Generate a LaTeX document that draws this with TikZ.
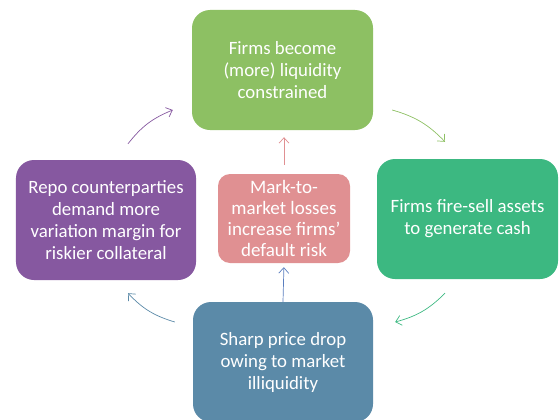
\documentclass[tikz,border=0pt]{standalone}
\usepackage{xcolor}
\usepackage{fontspec}
\setmainfont{Carlito}
\usepackage{tikz}
\usetikzlibrary{arrows.meta,positioning,calc}

\definecolor{liqgreen}{HTML}{8DC063}
\definecolor{sellteal}{HTML}{3CB881}
\definecolor{dropblue}{HTML}{5B8AA8}
\definecolor{repopurple}{HTML}{8658A0}
\definecolor{mtmpink}{HTML}{E09092}
\definecolor{upblue}{HTML}{5A7EBF}

\begin{document}
\begin{tikzpicture}[x=1bp,y=1bp,
  box/.style={rounded corners=18bp,text=white,align=center,
    minimum width=180bp,minimum height=120bp,inner sep=0pt,
    font=\fontsize{18.8bp}{22bp}\selectfont},
  flow/.style={line width=0.7pt,-{Straight Barb[length=5.5bp,width=10bp]},bend left=15}]
\useasboundingbox (0,0) rectangle (560,419);

% the cycle
\node[box,fill=liqgreen,minimum width=181bp] (liq) at (282.5,349) {Firms become\\(more) liquidity\\constrained};
\node[box,fill=sellteal,minimum width=181bp] (sell) at (467.5,200) {Firms fire-sell assets\\to generate cash};
\node[box,fill=dropblue] (drop) at (283,57) {Sharp price drop\\owing to market\\illiquidity};
\node[box,fill=repopurple] (repo) at (106,199) {Repo counterparties\\demand more\\variation margin for\\riskier collateral};

% middle box
\node[box,fill=mtmpink,rounded corners=12bp,minimum width=132bp,minimum height=89bp,
  font=\fontsize{19bp}{21bp}\selectfont] (mtm) at (284,200.5) {Mark-to-\\market losses\\increase firms'\\default risk};

\draw[flow,repopurple] ($(repo.north)+(22,16)$) to ($(liq.west)+(-19,-40)$);
\draw[flow,liqgreen] ($(liq.east)+(19,-40)$) to ($(sell.north)+(-22.5,17)$);
\draw[flow,sellteal] ($(sell.south)+(-22.5,-14)$) to ($(drop.east)+(22,40)$);
\draw[flow,dropblue] ($(drop.west)+(-18,40)$) to ($(repo.south)+(22,-13)$);

\draw[flow,bend left=0,upblue,shorten >=4bp] (drop.north) -- (mtm.south);
\draw[flow,bend left=0,mtmpink,shorten <=9bp,shorten >=7bp] (mtm.north) -- (mtm.north |- liq.south);
\end{tikzpicture}
\end{document}
